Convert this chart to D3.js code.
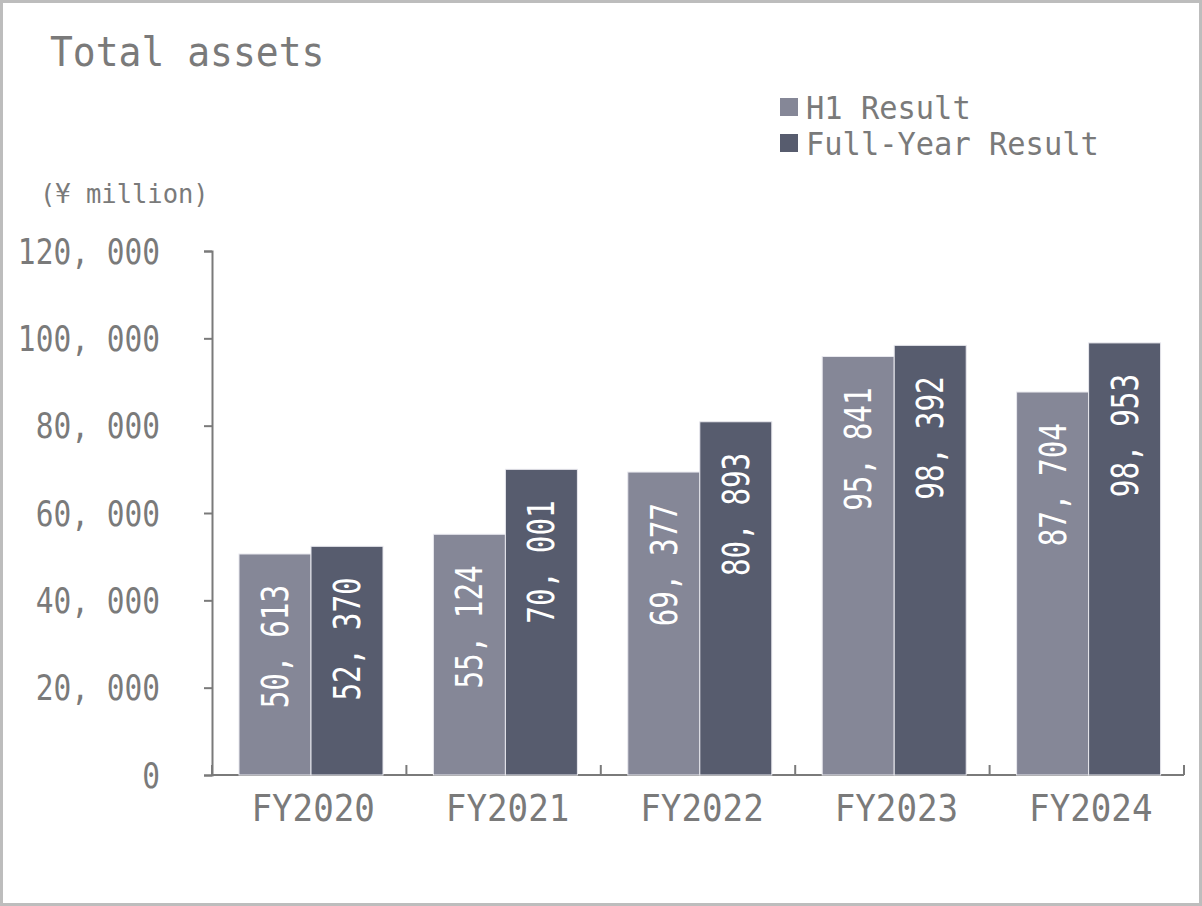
<!DOCTYPE html>
<html><head><meta charset="utf-8">
<script src="https://cdn.jsdelivr.net/npm/d3@7"></script>
<style>
body{margin:0;background:#fff}
text{font-family:"DejaVu Sans Mono",monospace}
</style></head>
<body><svg id="chart" width="1202" height="906"></svg>
<script>
const categories = ['FY2020', 'FY2021', 'FY2022', 'FY2023', 'FY2024']
const h1Values = [50613, 55124, 69377, 95841, 87704]
const fullValues = [52370, 70001, 80893, 98392, 98953]
const yTicks = [0, 20000, 40000, 60000, 80000, 100000, 120000]
const seriesNames = ['H1 Result', 'Full-Year Result']
const colors = ['#858797', '#575c6e']

const svg = d3.select('#chart')
const fmt = v => d3.format(',')(v).replace(',', ', ')
const grey = '#7a7a7a'

svg.append('rect').attr('x', 1.5).attr('y', 1.5).attr('width', 1199).attr('height', 903)
	.attr('fill', 'none').attr('stroke', '#bdbdbd').attr('stroke-width', 3)

const margin = { left: 212, right: 1184, top: 251, bottom: 775 }

const x = d3.scaleBand().domain(categories).range([margin.left, margin.right])
const y = d3.scaleLinear().domain([0, 120000]).range([margin.bottom, margin.top])

// y axis
const yAxis = svg.append('g').attr('transform', `translate(${margin.left},0)`)
	.call(d3.axisLeft(y).tickValues(yTicks).tickFormat(fmt).tickSize(8))
yAxis.select('.domain').attr('stroke', grey).attr('stroke-width', 2)
yAxis.selectAll('.tick line').attr('stroke', grey).attr('stroke-width', 2)
yAxis.selectAll('.tick text').remove()
yAxis.selectAll('.tick').append('text')
	.attr('transform', 'translate(-52,12) scale(0.82,1)').attr('text-anchor', 'end')
	.attr('fill', grey).attr('font-size', 36).style('font-family', '"DejaVu Sans Mono"')
	.text(fmt)

// x axis
svg.append('line').attr('x1', margin.left).attr('x2', margin.right)
	.attr('y1', margin.bottom).attr('y2', margin.bottom).attr('stroke', grey).attr('stroke-width', 2)
svg.selectAll('.xtick').data(categories.concat([null])).join('line')
	.attr('x1', (d, i) => margin.left + i * x.bandwidth()).attr('x2', (d, i) => margin.left + i * x.bandwidth())
	.attr('y1', margin.bottom).attr('y2', margin.bottom - 10).attr('stroke', grey).attr('stroke-width', 2)
svg.selectAll('.xlab').data(categories).join('text')
	.attr('transform', d => `translate(${x(d) + x.bandwidth() / 2 + 4},${margin.bottom + 46}) scale(0.9,1)`)
	.attr('text-anchor', 'middle').attr('fill', grey).attr('font-size', 38).text(d => d)

// bars
const inner = d3.scaleBand().domain([0, 1]).range([0, 144])
const groups = svg.selectAll('.grp').data(categories).join('g')
	.attr('transform', d => `translate(${x(d) + 27},0)`)
;[h1Values, fullValues].forEach((vals, s) => {
	groups.append('rect')
		.attr('x', inner(s)).attr('width', inner.bandwidth())
		.attr('y', (d, i) => y(vals[i])).attr('height', (d, i) => y(0) - y(vals[i]))
		.attr('fill', colors[s]).attr('stroke', '#e8e8ee').attr('stroke-width', 1)
	groups.append('text')
		.attr('transform', (d, i) => `translate(${inner(s) + inner.bandwidth() / 2 + 13},${y(vals[i]) + 31}) rotate(-90) scale(0.77,1)`)
		.attr('text-anchor', 'end').attr('fill', '#fff').attr('font-size', 38)
		.text((d, i) => fmt(vals[i]))
})

// title, unit, legend
svg.append('text').attr('transform', 'translate(50,66) scale(0.95,1)').attr('fill', grey)
	.attr('font-size', 40).text('Total assets')
svg.append('text').attr('transform', 'translate(40,203) scale(0.98,1)').attr('fill', grey)
	.attr('font-size', 26).text('(¥ million)')
seriesNames.forEach((n, i) => {
	svg.append('rect').attr('x', 780).attr('y', 98 + i * 36).attr('width', 18).attr('height', 18).attr('fill', colors[i])
	svg.append('text').attr('transform', `translate(806,${119 + i * 36}) scale(0.95,1)`).attr('fill', grey)
		.attr('font-size', 32).text(n)
})
</script></body></html>
